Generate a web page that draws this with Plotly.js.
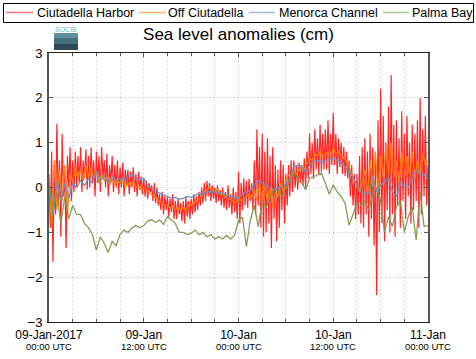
<!DOCTYPE html>
<html>
<head>
<meta charset="utf-8">
<script src="https://cdn.plot.ly/plotly-3.0.1.min.js"></script>
<style>html,body{margin:0;padding:0;background:#fff;}#chart{width:476px;height:359px;}</style>
</head>
<body>
<div id="chart"></div>
<script>
// Series names
var seriesNames = ["Ciutadella Harbor", "Off Ciutadella", "Menorca Channel", "Palma Bay"];

// Ciutadella Harbor, 10-minute samples from 09-Jan-2017 00:00 UTC
var harbor = [
  0.2, -0.9, 0.8, -1.66, 0.5, -0.6,
  1.42, -0.4, 0.6, -1.1, 1.2, -0.2,
  0.3, -1.35, 0.7, 0.0, 0.9, -0.3,
  0.6, -0.1, 0.8, 0.0, 0.7, 0.1,
  0.9, -0.1, 0.6, 0.2, 0.85, -0.05,
  0.7, 0.0, 0.9, 0.1, 0.6, -0.2,
  0.8, 0.1, 0.7, -0.1, 0.9, 0.2,
  0.6, 0.0, 0.75, -0.2, 0.5, 0.1,
  0.7, -0.1, 0.5, 0.0, 0.6, -0.15,
  0.45, 0.0, 0.55, -0.2, 0.4, 0.05,
  0.4, -0.15, 0.35, 0.0, 0.45, -0.1,
  0.3, -0.2, 0.35, -0.05, 0.25, -0.15,
  0.2, -0.2, 0.15, -0.25, 0.1, -0.1,
  0.05, -0.3, 0.1, -0.35, 0.0, -0.4,
  -0.15, -0.5, -0.1, -0.6, -0.2, -0.5,
  -0.2, -0.65, -0.25, -0.55, -0.15, -0.7,
  -0.3, -0.7, -0.25, -0.6, -0.35, -0.75,
  -0.3, -0.8, -0.2, -0.65, -0.3, -0.7,
  -0.25, -0.6, -0.15, -0.55, -0.2, -0.5,
  -0.1, -0.4, 0.0, -0.35, 0.1, -0.3,
  0.15, -0.2, 0.1, -0.3, 0.05, -0.25,
  0.0, -0.35, 0.05, -0.3, -0.05, -0.4,
  0.0, -0.45, -0.1, -0.5, 0.05, -0.45,
  -0.15, -0.6, 0.0, -0.55, -0.1, -0.7,
  0.35, -0.8, 0.1, -0.5, 0.2, -0.4,
  0.15, -0.45, 0.2, -0.3, 0.1, -0.5,
  0.6, -0.6, 1.3, -0.4, 0.9, -0.9,
  1.2, -1.1, 0.8, -1.0, 1.1, -0.8,
  0.7, -1.35, 0.9, -0.7, 0.5, -1.2,
  0.4, -0.9, 0.6, -0.5, 0.5, -0.8,
  0.3, -0.4, 0.5, -0.2, 0.6, -0.1,
  0.6, 0.0, 0.5, -0.05, 0.55, 0.1,
  0.5, 0.05, 0.65, 0.0, 0.8, 0.2,
  1.2, 0.3, 1.0, 0.2, 1.3, 0.4,
  1.1, 0.3, 1.4, 0.35, 1.2, 0.4,
  1.3, 0.4, 1.5, 0.3, 1.2, 0.5,
  1.66, 0.5, 1.2, 0.3, 1.1, 0.45,
  1.0, 0.3, 0.9, 0.25, 0.8, 0.2,
  0.6, -0.2, 0.5, -0.4, 0.3, -0.7,
  0.3, -0.6, 0.7, -0.8, 0.9, -0.9,
  1.1, -0.6, 0.8, -1.1, 1.2, -0.7,
  0.9, -1.3, 0.6, -2.4, 1.5, -1.0,
  2.2, -0.8, 1.6, -1.2, 1.0, -0.5,
  1.8, -1.0, 2.51, -0.6, 1.4, -1.1,
  1.5, -0.4, 1.1, -0.9, 1.7, -0.3,
  1.2, -0.7, 1.6, -0.2, 1.0, -0.8,
  1.4, -0.5, 1.2, -0.3, 1.5, -0.9,
  2.0, -0.6, 1.3, -0.2, 1.6, -0.4,
  0.5
];

// Off Ciutadella, 20-minute samples
var offCiutadella = [
  0.3, -0.9, 0.6,  -0.5, 0.4, -0.3,  0.5, -0.6, 0.3,  0.1, 0.45, 0.2,
  0.4, 0.15, 0.5,  0.25, 0.45, 0.2,  0.35, 0.1, 0.3,  0.15, 0.25, 0.05,
  0.2, 0.05, 0.15,  0.1, 0.2, 0.0,  0.1, 0.05, 0.15,  0.0, 0.05, -0.05,
  0.0, -0.05, -0.1,  -0.15, -0.2, -0.25,  -0.3, -0.35, -0.4,  -0.4, -0.45, -0.4,
  -0.5, -0.45, -0.5,  -0.45, -0.5, -0.4,  -0.4, -0.35, -0.3,  -0.25, -0.2, -0.1,
  -0.05, 0.0, -0.05,  -0.1, -0.05, -0.15,  -0.15, -0.2, -0.15,  -0.25, -0.3, -0.35,
  -0.2, -0.3, -0.25,  -0.2, -0.15, -0.25,  -0.05, -0.3, 0.1,  -0.4, 0.05, -0.3,
  0.0, -0.45, -0.1,  -0.2, 0.1, -0.1,  0.15, 0.3, 0.2,  0.35, 0.3, 0.4,
  0.45, 0.4, 0.55,  0.65, 0.6, 0.75,  0.7, 0.8, 0.65,  0.75, 0.8, 0.7,
  0.9, 0.75, 0.8,  0.7, 0.65, 0.6,  0.45, 0.3, 0.15,  0.0, -0.1, 0.1,
  0.4, -0.2, 0.6,  0.0, 0.8, -0.1,  0.7, 0.2, 0.9,  0.3, 1.0, 0.2,
  0.6, 0.1, 0.8,  0.2, 0.7, 0.3,  0.8, 0.2, 0.6,  0.3, 0.75, 0.5,
  0.6
];

// Menorca Channel, 30-minute samples
var menorca = [
  0.1, -0.6, 0.15, -0.3, 0.1, -0.25, 0.1, 0.0, 0.15, 0.05, 0.2, 0.1,
  0.35, 0.15, 0.25, 0.1, 0.25, 0.15, 0.2, 0.15, 0.25, 0.28, 0.2, 0.17,
  0.2, 0.05, -0.02, -0.09, -0.12, -0.17, -0.2, -0.24, -0.22, -0.26, -0.24, -0.2,
  -0.22, -0.17, -0.15, -0.13, -0.09, -0.1, -0.09, -0.13, -0.12, -0.17, -0.2, -0.24,
  -0.22, -0.14, -0.1, -0.05, 0.06, 0.15, 0.1, 0.06, 0.0, -0.05, 0.0, 0.02,
  0.08, 0.2, 0.45, 0.5, 0.46, 0.35, 0.5, 0.58, 0.61, 0.55, 0.58, 0.62,
  0.65, 0.61, 0.55, 0.45, 0.35, 0.24, 0.05, -0.09, -0.15, -0.13, 0.24, -0.09,
  0.05, 0.13, 0.2, -0.1, -0.2, 0.1, 0.05, 0.0, 0.2, 0.39, 0.3, 0.28,
  0.2
];

// Palma Bay, 30-minute samples
var palma = [
  0.1, -0.5, -0.1, -0.8, -0.2, -0.7, -0.4, -0.6, -0.6, -0.8, -0.9, -1.05,
  -1.4, -1.1, -1.25, -1.45, -1.2, -1.3, -1.05, -0.95, -1.0, -0.9, -0.85, -0.9,
  -0.85, -0.75, -0.72, -0.78, -0.72, -0.82, -0.65, -0.72, -0.8, -1.0, -1.0, -1.05,
  -1.02, -0.95, -1.05, -1.0, -1.1, -1.05, -1.15, -1.1, -1.15, -1.07, -1.15, -1.07,
  -0.73, -0.66, -1.32, -0.73, -0.4, -0.88, -0.3, -0.45, -0.2, -0.05, -0.06, -0.2,
  0.0, 0.1, 0.39, 0.17, 0.1, -0.05, 0.2, 0.24, 0.28, 0.32, 0.1, -0.15,
  0.06, -0.1, -0.2, -0.35, -0.84, -0.58, -0.36, -0.4, -0.3, -0.5, -0.15, 0.0,
  -0.3, -1.0, -0.65, -0.87, -0.43, -0.3, -1.0, -0.65, -0.43, -1.17, -0.1, -0.87,
  -0.85
];

// Axis ticks
var tickVals = ["2017-01-09 00:00", "2017-01-09 12:00", "2017-01-10 00:00", "2017-01-10 12:00", "2017-01-11 00:00"];
var tickDays = ["09-Jan-2017", "09-Jan", "10-Jan", "10-Jan", "11-Jan"];
var tickHours = ["00:00 UTC", "12:00 UTC", "00:00 UTC", "12:00 UTC", "00:00 UTC"];
var yTicks = [-3, -2, -1, 0, 1, 2, 3];

var startMs = Date.UTC(2017, 0, 9, 0, 0, 0);
function timeAxis(stepMinutes, n) {
  var out = [];
  for (var i = 0; i < n; i++) {
    out.push(new Date(startMs + i * stepMinutes * 60000).toISOString().replace('T', ' ').slice(0, 19));
  }
  return out;
}

var colors = ["rgba(255,0,0,0.85)", "rgba(255,128,0,0.95)", "rgb(105,145,200)", "rgba(130,150,80,0.95)"];
var legendColors = ["#ff7080", "#ffb070", "#9fb6de", "#a8c090"];
var dataSets = [[harbor, 10], [offCiutadella, 20], [menorca, 30], [palma, 30]];

var traces = dataSets.map(function (d, i) {
  return {
    x: timeAxis(d[1], d[0].length),
    y: d[0],
    type: 'scatter',
    mode: 'lines',
    name: seriesNames[i],
    line: {color: colors[i], width: i === 0 ? 1.2 : 1.3},
    hoverinfo: 'skip',
    showlegend: false
  };
});

var font = "Liberation Sans, Arial, sans-serif";
var dotGrid = '1px,3px';

// pixel -> paper helpers (plot area: x 49..428, y 53..322)
function px(x) { return (x - 49) / 379; }
function py(y) { return (322 - y) / 269; }

var shapes = [
  // legend box
  {type: 'rect', xref: 'paper', yref: 'paper', x0: px(3.5), x1: px(473.5), y0: py(22.5), y1: py(3.5), line: {color: '#000', width: 1}, fillcolor: 'rgba(0,0,0,0)'},
  // SOCIB logo block
  {type: 'rect', xref: 'paper', yref: 'paper', x0: px(54), x1: px(78), y0: py(50), y1: py(44), fillcolor: '#2f4a56', line: {width: 0}},
  {type: 'rect', xref: 'paper', yref: 'paper', x0: px(54), x1: px(78), y0: py(44), y1: py(38), fillcolor: '#466f7c', line: {width: 0}},
  {type: 'rect', xref: 'paper', yref: 'paper', x0: px(54), x1: px(78), y0: py(38), y1: py(33), fillcolor: '#5e8f9c', line: {width: 0}}
];
var annotations = [
  {text: 'SOCIB', xref: 'paper', yref: 'paper', x: px(66), y: py(29.5), xanchor: 'center', yanchor: 'middle', showarrow: false,
   font: {family: font, size: 7, color: '#5fb8c8'}}
];

// second line of the x tick labels (hour of day)
tickVals.forEach(function (v, i) {
  annotations.push({text: tickHours[i], xref: 'x', yref: 'paper', x: v, y: py(346), xanchor: 'center', yanchor: 'middle',
    showarrow: false, font: {family: font, size: 9.5, color: '#000'}, borderpad: 0});
});

// manual legend (single row, as in the reference)
var legendLineX = [[6, 33], [139, 165], [249, 275], [383, 409]];
var legendTextX = [36, 167, 278, 411];
seriesNames.forEach(function (name, i) {
  shapes.push({type: 'line', xref: 'paper', yref: 'paper', x0: px(legendLineX[i][0]), x1: px(legendLineX[i][1]), y0: py(12.5), y1: py(12.5),
    line: {color: legendColors[i], width: 1.5}});
  annotations.push({text: name, xref: 'paper', yref: 'paper', x: px(legendTextX[i]), y: py(13), xanchor: 'left', yanchor: 'middle',
    showarrow: false, font: {family: font, size: 12.5, color: '#000'}, xshift: -1});
});

var layout = {
  width: 476,
  height: 359,
  margin: {l: 49, r: 48, t: 53, b: 37, pad: 0},
  paper_bgcolor: '#ffffff',
  plot_bgcolor: '#ffffff',
  font: {family: font, size: 12, color: '#000'},
  showlegend: false,
  title: {
    text: 'Sea level anomalies (cm)',
    font: {family: font, size: 17, color: '#000'},
    x: 0.5, xref: 'paper', xanchor: 'center',
    y: 1 - 34 / 359, yref: 'container', yanchor: 'middle'
  },
  xaxis: {
    type: 'date',
    range: ["2017-01-09 00:00", "2017-01-11 00:00"],
    tickmode: 'array',
    tickvals: tickVals,
    ticktext: tickDays,
    tickangle: 0,
    ticks: 'inside', ticklen: 4, tickcolor: '#555',
    showgrid: true, gridcolor: '#bbbbbb', griddash: dotGrid, gridwidth: 1,
    minor: {dtick: 3 * 3600000, tick0: "2017-01-09 00:00", showgrid: true, gridcolor: '#bbbbbb', griddash: dotGrid, ticks: 'inside', ticklen: 3, tickcolor: '#555'},
    showline: true, linecolor: '#222', linewidth: 1, mirror: 'allticks',
    zeroline: false,
    tickfont: {family: font, size: 12, color: '#000'},
    ticklabelstandoff: 2,
    fixedrange: true
  },
  yaxis: {
    range: [-3, 3],
    tickmode: 'array',
    tickvals: yTicks,
    ticks: 'inside', ticklen: 4, tickcolor: '#555',
    showgrid: true, gridcolor: '#bbbbbb', griddash: dotGrid, gridwidth: 1,
    showline: true, linecolor: '#555', linewidth: 2, mirror: 'allticks',
    zeroline: false,
    tickfont: {family: font, size: 13, color: '#000'},
    ticklabelstandoff: 2,
    fixedrange: true
  },
  shapes: shapes,
  annotations: annotations
};

Plotly.newPlot('chart', traces, layout, {displayModeBar: false, staticPlot: true});
</script>
</body>
</html>
